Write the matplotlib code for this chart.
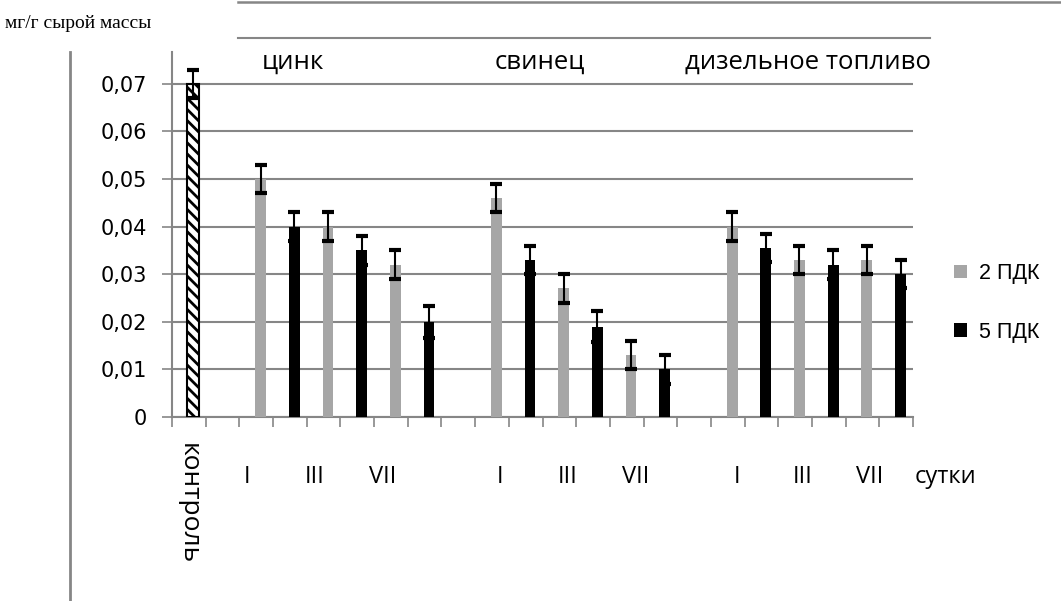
import numpy as np
import matplotlib.pyplot as plt
from matplotlib.lines import Line2D

# --- data (мг/г сырой массы) ---
control_value = 0.07
control_err = 0.003

groups = ["цинк", "свинец", "дизельное топливо"]
days = ["I", "III", "VII"]

pdk2 = {"цинк": [0.050, 0.040, 0.032],
        "свинец": [0.046, 0.027, 0.013],
        "дизельное топливо": [0.040, 0.033, 0.033]}
pdk5 = {"цинк": [0.040, 0.035, 0.020],
        "свинец": [0.033, 0.019, 0.010],
        "дизельное топливо": [0.0355, 0.032, 0.030]}
err2 = {"цинк": [0.003, 0.003, 0.003],
        "свинец": [0.003, 0.003, 0.003],
        "дизельное топливо": [0.003, 0.003, 0.003]}
err5 = {"цинк": [0.003, 0.003, 0.0033],
        "свинец": [0.003, 0.0032, 0.003],
        "дизельное топливо": [0.003, 0.003, 0.003]}

yticks = [0, 0.01, 0.02, 0.03, 0.04, 0.05, 0.06, 0.07]
ytick_labels = ["0", "0,01", "0,02", "0,03", "0,04", "0,05", "0,06", "0,07"]

GRAY = "#a6a6a6"
GRID = "#868686"
n_cat = 22
group_start = [2, 9, 16]
shift = 0.13
bw = 0.32

plt.rcParams["hatch.linewidth"] = 2.0

fig = plt.figure(figsize=(10.61, 6.01), dpi=100)
ax = fig.add_axes([172 / 1061, 1 - 417 / 601, 741 / 1061, 365 / 601])

# control bar
ax.bar(0 + shift, control_value, width=0.36, color="white", edgecolor="black",
       hatch="\\\\\\", linewidth=1.5, zorder=3)
ax.errorbar(0 + shift, control_value, yerr=control_err, fmt="none", ecolor="black",
            elinewidth=1.5, capsize=4.5, capthick=3, zorder=4)

for g, s in zip(groups, group_start):
    x2 = np.array([s, s + 2, s + 4]) + shift
    x5 = np.array([s + 1, s + 3, s + 5]) + shift
    b2 = ax.bar(x2, pdk2[g], width=bw, color=GRAY, zorder=3)
    b5 = ax.bar(x5, pdk5[g], width=bw, color="black", zorder=3)
    ax.errorbar(x2, pdk2[g], yerr=err2[g], fmt="none", ecolor="black",
                elinewidth=1.5, capsize=4.5, capthick=3, zorder=4)
    ax.errorbar(x5, pdk5[g], yerr=err5[g], fmt="none", ecolor="black",
                elinewidth=1.5, capsize=4.5, capthick=3, zorder=4)

ax.set_xlim(-0.5, n_cat - 0.5)
ax.set_ylim(0, (417 - 52) / 4760)
ax.set_yticks(yticks)
ax.set_yticklabels(ytick_labels, fontsize=15, family="DejaVu Sans")
ax.set_xticks(np.arange(-0.5, n_cat, 1.0))
ax.set_xticklabels([])
ax.tick_params(axis="y", length=7, width=1.2, color=GRID, pad=11)
ax.tick_params(axis="x", length=7, width=1.2, color=GRID)
ax.yaxis.grid(True, color=GRID, linewidth=1.5, zorder=0)
ax.set_axisbelow(True)
for sp in ["top", "right"]:
    ax.spines[sp].set_visible(False)
ax.spines["left"].set_color(GRID)
ax.spines["bottom"].set_color(GRID)
ax.spines["left"].set_linewidth(1.5)
ax.spines["bottom"].set_linewidth(1.5)

# group titles
title_x = [3.09, 10.43, 18.38]
for g, tx in zip(groups, title_x):
    ax.text(tx, 0.0746, g, ha="center", va="center", fontsize=18.5, family="Open Sans")

# day labels under axis
day_x = [[1.73, 3.75, 5.76], [9.24, 11.26, 13.28], [16.28, 18.23, 20.22]]
for xs in day_x:
    for d, dx in zip(days, xs):
        ax.text(dx, -0.0126, d, ha="center", va="center", fontsize=17, family="Open Sans")
ax.text(22.45, -0.0126, "сутки", ha="center", va="center", fontsize=17,
        family="Open Sans", clip_on=False)
ax.text(-0.02, -0.0055, "контроль", ha="center", va="top", rotation=-90,
        fontsize=19, family="Open Sans")

# legend
leg = ax.legend([b2, b5], ["2 ПДК", "5 ПДК"], loc="center left",
                bbox_to_anchor=(935 / 1061, 1 - 303 / 601), bbox_transform=fig.transFigure,
                frameon=False, handlelength=0.6, handleheight=0.6, handletextpad=0.55,
                labelspacing=1.75, prop={"family": "Liberation Sans", "size": 15.5})

# y unit label and frame lines
fig.text(5 / 1061, 1 - 23 / 601, "мг/г сырой массы", ha="left", va="center",
         fontsize=14, family="Liberation Serif")
fig.add_artist(Line2D([238 / 1061, 1.0], [1 - 2 / 601, 1 - 2 / 601], color=GRID, linewidth=1.8))
fig.add_artist(Line2D([238 / 1061, 930 / 1061], [1 - 38 / 601, 1 - 38 / 601], color=GRID, linewidth=1.5))
fig.add_artist(Line2D([70 / 1061, 70 / 1061], [0, 1 - 52 / 601], color=GRID, linewidth=2))

fig.savefig("out.png", dpi=100)
